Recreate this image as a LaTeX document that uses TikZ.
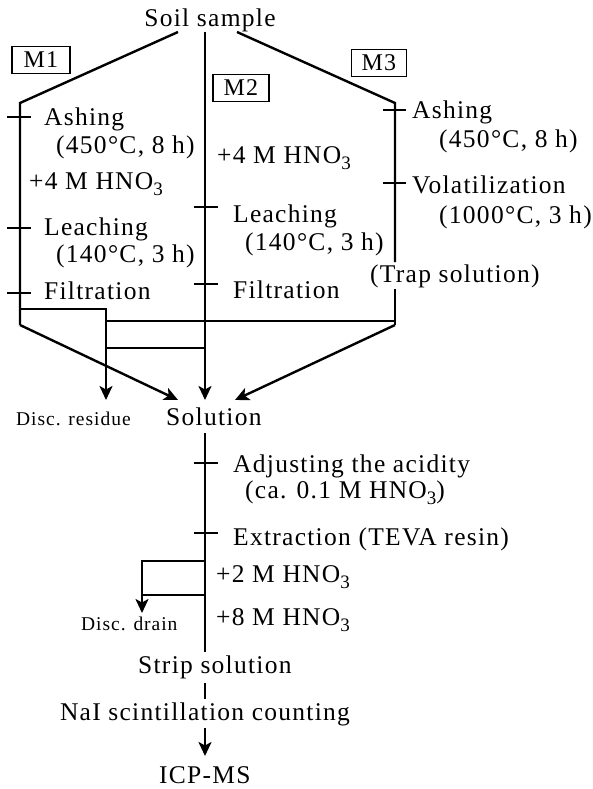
\documentclass[tikz,border=0pt]{standalone}
\usepackage{fontspec}
\setmainfont[LetterSpace=5]{Liberation Serif}
\usetikzlibrary{arrows.meta}
\newcommand{\mysubthree}{\raisebox{-6pt}{\fontsize{19}{19}\selectfont 3}}
\begin{document}
\begin{tikzpicture}[x=1pt,y=-1pt,
  line width=2.4pt,
  txt/.style={inner sep=0pt,anchor=base west,font=\fontsize{25.5}{30}\selectfont},
  small/.style={inner sep=0pt,anchor=base west,font=\fontsize{19.5}{22}\selectfont},
  mbox/.style={draw,line width=1.8pt,inner sep=0pt,font=\fontsize{24}{28}\selectfont,minimum height=27pt},
  tick/.style={line width=2.4pt},
  arr/.style={-{Stealth[length=14pt,width=13pt,inset=3.5pt]}}]
\useasboundingbox (0,0) rectangle (592,789);
% texts
\node[txt,anchor=base] (soil) at (210,27) {Soil sample};
\node[mbox,minimum width=58pt] (m1) at (41,60) {M1};
\node[mbox,minimum width=56pt] (m2) at (241,88) {M2};
\node[mbox,minimum width=55pt] (m3) at (379,63) {M3};
% M1 texts
\node[txt] (a1) at (43,125) {Ashing};
\node[txt] (a1t) at (55,153) {(450°C, 8 h)};
\node[txt] (h1) at (28,189) {+4 M HNO\mysubthree};
\node[txt] (l1) at (43,235) {Leaching};
\node[txt] (l1t) at (55,262) {(140°C, 3 h)};
\node[txt] (f1) at (43,299) {Filtration};
% M2 texts
\node[txt] (h2) at (216,163) {+4 M HNO\mysubthree};
\node[txt] (l2) at (232,222) {Leaching};
\node[txt] (l2t) at (244,250) {(140°C, 3 h)};
\node[txt] (f2) at (232,298) {Filtration};
% M3 texts
\node[txt] (a3) at (411,118) {Ashing};
\node[txt] (a3t) at (438,147) {(450°C, 8 h)};
\node[txt] (v3) at (411,193) {Volatilization};
\node[txt] (v3t) at (438,223) {(1000°C, 3 h)};
\node[txt] (trap) at (369,282) {(Trap solution)};
% middle
\node[txt] (sol) at (165,425) {Solution};
\node[small] (dres) at (15,425) {Disc. residue};
\node[txt] (adj) at (232,472) {Adjusting the acidity};
\node[txt] (adjt) at (244,498) {(ca. 0.1 M HNO\mysubthree)};
\node[txt] (ext) at (232,545) {Extraction (TEVA resin)};
\node[txt] (h3) at (215,582) {+2 M HNO\mysubthree};
\node[txt] (h4) at (215,625) {+8 M HNO\mysubthree};
\node[small] (ddr) at (80,630) {Disc. drain};
\node[txt] (strip) at (137,673) {Strip solution};
\node[txt,anchor=base] (nai) at (205,720) {NaI scintillation counting};
\node[txt] (icp) at (158,783) {ICP-MS};
% coordinates
\coordinate (sL) at (178,32);
\coordinate (sC) at (205,32);
\coordinate (sR) at (237,32);
\coordinate (cL) at (20,103);
\coordinate (cR) at (395,103);
\coordinate (bL) at (20,325);
\coordinate (bR) at (395,325);
\coordinate (tR1) at (395,262);
\coordinate (tR2) at (395,289);
\coordinate (eL) at (178,400);
\coordinate (eC) at (205,400);
\coordinate (eR) at (235,400);
\coordinate (j1) at (20,309);
\coordinate (j2) at (106,309);
\coordinate (eD) at (106,400);
\coordinate (j3) at (106,321);
\coordinate (j4) at (395,321);
\coordinate (j5) at (106,348);
\coordinate (j6) at (205,348);
% top branches
\draw (sL) -- (cL) -- (bL);
\draw[arr] (bL) -- (eL);
\draw[arr] (sC) -- (eC);
\draw (sR) -- (cR) -- (tR1);
\draw (tR2) -- (bR);
\draw[arr] (bR) -- (eR);
\draw[arr] (j1) -- (j2) -- (eD);
\draw (j3) -- (j4);
\draw (j5) -- (j6);
% ticks
\foreach \y in {117,228,293} \draw[tick] (7,\y) -- (31,\y);
\foreach \y in {207,284} \draw[tick] (194,\y) -- (218,\y);
\foreach \y in {110,183} \draw[tick] (383,\y) -- (406,\y);
\foreach \y in {463,533} \draw[tick] (194,\y) -- (218,\y);
% lower part
\coordinate (s1) at (205,433);
\coordinate (s2) at (205,652);
\coordinate (d1) at (205,561);
\coordinate (d2) at (142,561);
\coordinate (d3) at (142,613);
\coordinate (d4) at (142,595);
\coordinate (d5) at (205,595);
\draw (s1) -- (s2);
\draw[arr] (d1) -- (d2) -- (d3);
\draw (d4) -- (d5);
\coordinate (k1) at (205,683);
\coordinate (k2) at (205,699);
\draw (k1) -- (k2);
\coordinate (k3) at (205,728);
\coordinate (k4) at (205,756);
\draw[arr] (k3) -- (k4);
\end{tikzpicture}
\end{document}
